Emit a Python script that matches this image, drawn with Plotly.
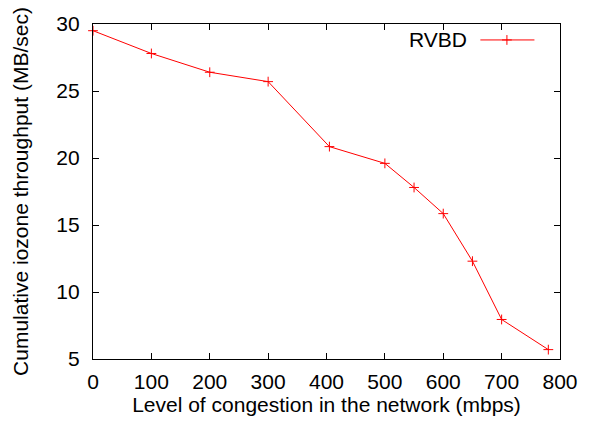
import plotly.graph_objects as go

# Congestion level (mbps) and cumulative iozone throughput (MB/sec)
congestion = [0, 100, 200, 300, 405, 500, 550, 600, 650, 700, 780]
throughput = [29.5, 27.8, 26.4, 25.7, 20.85, 19.6, 17.8, 15.85, 12.3, 7.95, 5.7]

series_name = "RVBD"
x_ticks = [0, 100, 200, 300, 400, 500, 600, 700, 800]
y_ticks = [5, 10, 15, 20, 25, 30]

RED = "#ff0000"
FONT = dict(family="Liberation Sans, Arial, sans-serif", size=21, color="#000000")

fig = go.Figure()
fig.add_trace(go.Scatter(
    x=congestion, y=throughput, mode="lines+markers", name=series_name,
    line=dict(color=RED, width=1),
    marker=dict(symbol="cross-thin", size=7, line=dict(color=RED, width=1)),
    showlegend=False, cliponaxis=False,
))

axis_common = dict(
    showline=True, linecolor="#000000", linewidth=1.3, mirror="ticks",
    ticks="inside", ticklen=6, tickwidth=1, tickcolor="#000000",
    showgrid=False, zeroline=False, tickfont=FONT,
)

fig.update_layout(
    width=590, height=423,
    margin=dict(l=93, r=22, t=23, b=64),
    paper_bgcolor="#ffffff", plot_bgcolor="#ffffff",
    font=FONT,
    xaxis=dict(range=[0, 800], tickvals=x_ticks, ticklabelstandoff=4,
               title=dict(text="Level of congestion in the network (mbps)", font=FONT, standoff=3),
               **axis_common),
    yaxis=dict(range=[5, 30], tickvals=y_ticks, ticklabelstandoff=8,
               title=dict(text="Cumulative iozone throughput (MB/sec)", font=FONT, standoff=21),
               **axis_common),
)

# Key in the upper right: label on the left, line sample with a point on the right
fig.add_annotation(xref="paper", yref="paper", x=(475 - 93) / 475, y=1 - (39 - 23) / 336,
                   text=series_name, showarrow=False, xanchor="right", yanchor="middle", font=FONT)
fig.add_shape(type="line", xref="paper", yref="paper",
              x0=(487 - 93) / 475, x1=(542 - 93) / 475,
              y0=1 - (39 - 23) / 336, y1=1 - (39 - 23) / 336,
              line=dict(color=RED, width=1))
fig.add_trace(go.Scatter(
    x=[(514 - 93) / 475 * 800], y=[30 - (39 - 23) / 336 * 25], mode="markers",
    marker=dict(symbol="cross-thin", size=7, line=dict(color=RED, width=1)),
    showlegend=False, hoverinfo="skip",
))

fig.write_html("out.html")
